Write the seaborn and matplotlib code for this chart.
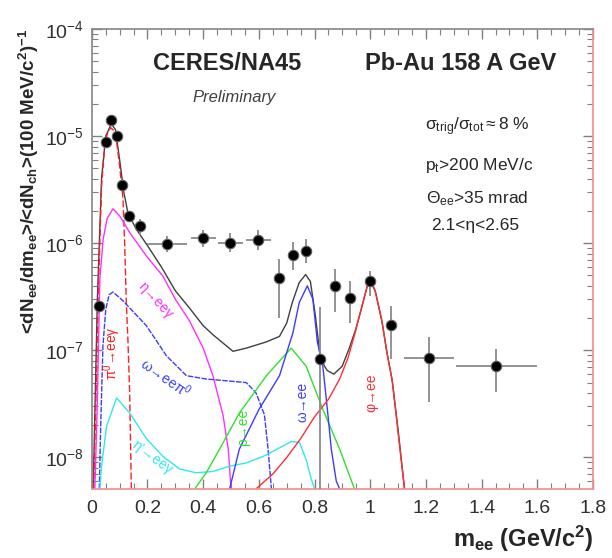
import numpy as np
import pandas as pd
import seaborn as sns
import matplotlib.pyplot as plt
from matplotlib.ticker import MultipleLocator, LogLocator, FuncFormatter, NullFormatter

# measured points (CERES Pb-Au)
m_data = [0.027, 0.050, 0.069, 0.090, 0.109, 0.134, 0.172, 0.271, 0.40, 0.497, 0.597,
          0.672, 0.722, 0.770, 0.821, 0.873, 0.929, 1.0, 1.075, 1.21, 1.453]
y_data = [2.6e-7, 8.9e-6, 1.41e-5, 1.0e-5, 3.5e-6, 1.78e-6, 1.44e-6, 9.8e-7, 1.13e-6, 1.0e-6, 1.08e-6,
          4.7e-7, 7.8e-7, 8.5e-7, 8.3e-8, 4.0e-7, 3.1e-7, 4.4e-7, 1.74e-7, 8.5e-8, 7.1e-8]
y_lo = [2.3e-7, 8.3e-6, 1.32e-5, 9.4e-6, 3.2e-6, 1.6e-6, 1.2e-6, 8.2e-7, 9.2e-7, 8.2e-7, 8.7e-7,
        2.0e-7, 5.6e-7, 6.6e-7, 1e-9, 2.3e-7, 1.8e-7, 3.2e-7, 8.3e-8, 3.3e-8, 4.1e-8]
y_hi = [2.9e-7, 9.6e-6, 1.5e-5, 1.07e-5, 3.8e-6, 1.95e-6, 1.7e-6, 1.16e-6, 1.34e-6, 1.25e-6, 1.32e-6,
        7.2e-7, 1.02e-6, 1.1e-6, 2.56e-7, 5.7e-7, 4.4e-7, 5.5e-7, 2.6e-7, 1.32e-7, 1.03e-7]
m_err = [0, 0, 0, 0, 0, 0, 0, 0.072, 0.045, 0.045, 0.045,
         0, 0, 0, 0, 0, 0, 0, 0, 0.09, 0.145]

# cocktail curves
m_total = [0.005, 0.02, 0.035, 0.05, 0.07, 0.085, 0.10, 0.115, 0.13, 0.16, 0.20, 0.25, 0.30, 0.35,
           0.40, 0.435, 0.507, 0.555, 0.627, 0.674, 0.70, 0.72, 0.745, 0.768, 0.785, 0.803, 0.821,
           0.845, 0.869, 0.899, 0.923, 0.947, 0.971, 0.989, 1.0, 1.019, 1.043, 1.06, 1.078, 1.10, 1.123]
y_total = [5.1e-9, 3e-7, 4e-6, 1.0e-5, 1.3e-5, 1.15e-5, 6e-6, 3e-6, 1.9e-6, 1.35e-6, 9.5e-7, 6e-7, 3.6e-7, 2.5e-7,
           1.7e-7, 1.4e-7, 9.8e-8, 1.05e-7, 1.2e-7, 1.35e-7, 1.8e-7, 2.8e-7, 4.3e-7, 5.1e-7, 4.4e-7, 2.1e-7, 8.3e-8,
           6.5e-8, 6.0e-8, 7.1e-8, 1.02e-7, 1.55e-7, 2.6e-7, 4.0e-7, 4.5e-7, 3.5e-7, 1.8e-7, 9.5e-8, 5.4e-8, 1.8e-8, 5.1e-9]

m_pi0 = [0.007, 0.014, 0.023, 0.035, 0.047, 0.058, 0.068, 0.08, 0.09, 0.10, 0.112, 0.118, 0.124, 0.13, 0.136, 0.142]
y_pi0 = [5.1e-9, 2.7e-8, 3.2e-7, 3.4e-6, 8.7e-6, 1.1e-5, 1.2e-5, 1.12e-5, 8.5e-6, 5.2e-6, 2.6e-6, 1.0e-6, 2.8e-7, 1.2e-7, 4e-8, 5.1e-9]

m_eta = [0.011, 0.019, 0.029, 0.041, 0.055, 0.076, 0.10, 0.136, 0.196, 0.256, 0.30, 0.35, 0.40, 0.435, 0.471, 0.49, 0.50]
y_eta = [5.1e-9, 2.7e-8, 4.7e-7, 1.1e-6, 1.7e-6, 2.1e-6, 1.8e-6, 1.26e-6, 7.6e-7, 4.9e-7, 3.0e-7, 1.9e-7, 1.05e-7, 5.8e-8, 2.5e-8, 1.2e-8, 5.1e-9]

m_omega_dal = [0.027, 0.032, 0.04, 0.05, 0.062, 0.076, 0.10, 0.112, 0.196, 0.268, 0.34, 0.411, 0.483, 0.555, 0.59, 0.62, 0.633, 0.645]
y_omega_dal = [5.1e-9, 2e-8, 1.1e-7, 2.4e-7, 3.3e-7, 3.5e-7, 3.1e-7, 2.9e-7, 1.7e-7, 8.9e-8, 5.8e-8, 5.4e-8, 5.2e-8, 5.0e-8, 4.0e-8, 2.5e-8, 1.2e-8, 5.1e-9]

m_etap = [0.029, 0.035, 0.053, 0.089, 0.136, 0.196, 0.256, 0.316, 0.375, 0.435, 0.495, 0.555, 0.614, 0.674, 0.716, 0.746, 0.77, 0.788, 0.80]
y_etap = [5.1e-9, 8.3e-9, 1.95e-8, 3.6e-8, 2.6e-8, 1.5e-8, 1.02e-8, 7.8e-9, 7.2e-9, 7.4e-9, 8.3e-9, 8.9e-9, 1.02e-8, 1.23e-8, 1.41e-8, 1.38e-8, 9.5e-9, 6.3e-9, 5.1e-9]

m_rho = [0.37, 0.411, 0.459, 0.53, 0.627, 0.716, 0.77, 0.83, 0.89, 0.943]
y_rho = [5.1e-9, 7.2e-9, 1.2e-8, 2.6e-8, 5.8e-8, 1.05e-7, 7.1e-8, 2.8e-8, 1.2e-8, 5.1e-9]

m_omega = [0.495, 0.53, 0.60, 0.674, 0.722, 0.745, 0.774, 0.794, 0.81, 0.83, 0.848, 0.86, 0.878, 0.89]
y_omega = [5.1e-9, 1.2e-8, 2.8e-8, 5.8e-8, 1.45e-7, 2.8e-7, 4.0e-7, 3.0e-7, 1.2e-7, 7e-8, 2.5e-8, 1.2e-8, 6e-9, 5.1e-9]

m_phi = [0.59, 0.65, 0.70, 0.75, 0.80, 0.85, 0.89, 0.92, 0.947, 0.97, 0.99, 1.0, 1.015, 1.04, 1.06, 1.08, 1.10, 1.123]
y_phi = [5.1e-9, 7e-9, 1.0e-8, 1.5e-8, 2.4e-8, 3.5e-8, 5.4e-8, 8.5e-8, 1.5e-7, 2.6e-7, 4.0e-7, 4.3e-7, 3.8e-7, 2.0e-7, 9.5e-8, 5e-8, 1.7e-8, 5.1e-9]

curves = {
    "total": (m_total, y_total),
    "pi0": (m_pi0, y_pi0),
    "eta": (m_eta, y_eta),
    "omega_dalitz": (m_omega_dal, y_omega_dal),
    "etaprime": (m_etap, y_etap),
    "rho": (m_rho, y_rho),
    "omega": (m_omega, y_omega),
    "phi": (m_phi, y_phi),
}
colors = {"total": "#404040", "pi0": "#ff2020", "eta": "#ff30ff", "omega_dalitz": "#3c3cff",
          "etaprime": "#30e8f0", "rho": "#30e030", "omega": "#3c3cff", "phi": "#ff3030"}
dashes = {"total": "", "pi0": (5, 2), "eta": "", "omega_dalitz": (4, 1),
          "etaprime": "", "rho": "", "omega": "", "phi": ""}

rows = []
for name, (mx, my) in curves.items():
    for a, b in zip(mx, my):
        rows.append((name, a, b))
df = pd.DataFrame(rows, columns=["channel", "m", "y"])

sns.set_theme(style="ticks")
plt.rcParams['font.family'] = ['Liberation Sans', 'DejaVu Sans']
plt.rcParams['mathtext.fontset'] = 'custom'
plt.rcParams['mathtext.rm'] = 'Liberation Sans'
plt.rcParams['mathtext.it'] = 'Liberation Sans:italic'
plt.rcParams['mathtext.bf'] = 'Liberation Sans:bold'
plt.rcParams['mathtext.default'] = 'regular'

fig = plt.figure(figsize=(6.12, 5.58), dpi=100)
ax = fig.add_axes([0.150, 0.124, 0.819, 0.824])

sns.lineplot(data=df, x="m", y="y", hue="channel", style="channel", palette=colors,
             dashes=dashes, sort=False, estimator=None, legend=False, lw=1.0, ax=ax)

y_arr = np.array(y_data)
ax.errorbar(m_data, y_data, yerr=[y_arr - np.array(y_lo), np.array(y_hi) - y_arr], xerr=m_err,
            fmt='o', color='black', ecolor='#8a8a8a', elinewidth=1.3, ms=7.5, mec='#606060',
            mew=0.8, capsize=0, zorder=5)

ax.set_yscale('log')
ax.set_xlim(0, 1.8)
ax.set_ylim(5.1e-9, 1e-4)
ax.xaxis.set_major_locator(MultipleLocator(0.2))
ax.xaxis.set_minor_locator(MultipleLocator(0.05))
ax.xaxis.set_major_formatter(FuncFormatter(lambda v, p: "%g" % round(v, 2)))
ax.yaxis.set_major_locator(LogLocator(base=10))
ax.yaxis.set_minor_locator(LogLocator(base=10, subs=np.arange(2, 10)))
ax.yaxis.set_minor_formatter(NullFormatter())
ax.tick_params(which='both', direction='in', top=True, right=True, color='#808080')
ax.tick_params(which='major', length=7, width=1, labelsize=14, labelcolor='#303030')
ax.tick_params(which='minor', length=4, width=0.8)
ax.tick_params(axis='x', pad=8)
ax.tick_params(axis='y', pad=6)
for s in ['left', 'top']:
    ax.spines[s].set_color('#8a8a8a')
for s in ['right', 'bottom']:
    ax.spines[s].set_color('#f49090')

ax.set_xlabel('m$_{ee}$ (GeV/c$^{2}$)', fontsize=17, fontweight='bold', loc='right', labelpad=5)
ax.set_ylabel('')
ax.text(-0.125, 1.0, '<dN$_{ee}$/dm$_{ee}$>/<dN$_{ch}$>(100 MeV/c$^{2}$)$^{-1}$', transform=ax.transAxes,
        rotation=90, ha='center', va='top', fontsize=13.5, fontweight='bold')

ax.text(0.27, 0.925, 'CERES/NA45', transform=ax.transAxes, ha='center', va='center',
        fontsize=17, fontweight='bold')
ax.text(0.736, 0.925, 'Pb-Au 158 A GeV', transform=ax.transAxes, ha='center', va='center',
        fontsize=17, fontweight='bold')
ax.text(0.284, 0.85, 'Preliminary', transform=ax.transAxes, ha='center', va='center',
        fontsize=12, style='italic', color='#404040')
ax.text(0.665, 0.7865, r'$\sigma_{trig}/\sigma_{tot}\approx$8 %', transform=ax.transAxes,
        ha='left', va='center', fontsize=12.5)
ax.text(0.665, 0.7035, 'p$_{t}$>200 MeV/c', transform=ax.transAxes, ha='left', va='center', fontsize=12.5)
ax.text(0.667, 0.632, r'$\Theta_{ee}$>35 mrad', transform=ax.transAxes, ha='left', va='center', fontsize=12.5)
ax.text(0.677, 0.572, '2.1<η<2.65', transform=ax.transAxes, ha='left', va='center', fontsize=12.5)

# channel labels
ax.text(0.075, 9.5e-8, 'π$^{0}$→eeγ', color=colors["pi0"], rotation=90, ha='center', va='center', fontsize=10)
ax.text(0.23, 2.9e-7, 'η→eeγ', color=colors["eta"], rotation=-47, ha='center', va='center', fontsize=10)
ax.text(0.265, 5.6e-8, 'ω→eeπ$^{0}$', color=colors["omega"], rotation=-35, ha='center', va='center', fontsize=10)
ax.text(0.215, 1.0e-8, "η'→eeγ", color=colors["etaprime"], rotation=-37, ha='center', va='center', fontsize=10)
ax.text(0.543, 1.9e-8, 'ρ→ee', color=colors["rho"], rotation=90, ha='center', va='center', fontsize=10)
ax.text(0.758, 3.3e-8, 'ω→ee', color=colors["omega"], rotation=90, ha='center', va='center', fontsize=10)
ax.text(1.005, 4.0e-8, 'φ→ee', color=colors["phi"], rotation=90, ha='center', va='center', fontsize=10)

fig.savefig('out.png', dpi=100)
